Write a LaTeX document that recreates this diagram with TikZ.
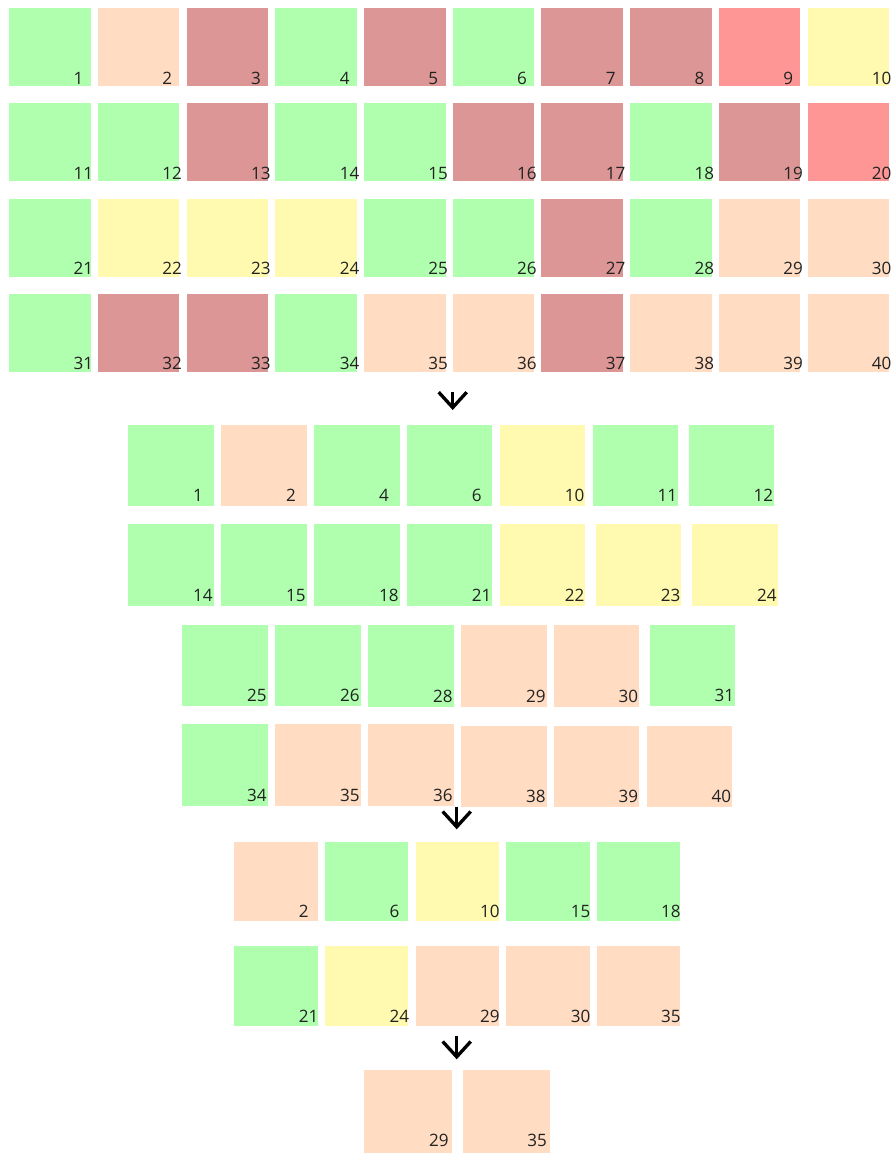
\documentclass[tikz,border=0pt]{standalone}
\usepackage{fontspec}
\setmainfont{Open Sans}
\usetikzlibrary{arrows.meta}

\definecolor{keepgreen}{RGB}{175,255,175}
\definecolor{keeppeach}{RGB}{255,220,194}
\definecolor{keepyellow}{RGB}{255,250,175}
\definecolor{dropred}{RGB}{221,150,150}
\definecolor{droppink}{RGB}{255,150,150}
\definecolor{numgray}{RGB}{34,34,34}

\tikzset{
    cell/.style={rectangle, inner sep=0pt, anchor=north west, fill=#1},
    num/.style={anchor=base west, inner sep=0pt, text=numgray,
                font=\fontsize{12.8}{15}\selectfont},
    topcell/.style={cell=#1, minimum width=61.1pt, minimum height=58.5pt},
    midcell/.style={cell=#1, minimum width=64.1pt, minimum height=61.1pt},
    lowcell/.style={cell=#1, minimum width=62.5pt, minimum height=59.5pt},
    lastcell/.style={cell=#1, minimum width=65.6pt, minimum height=62.5pt},
    flow/.style={-{Straight Barb[length=11.5pt, width=21pt]}, line width=2.5pt},
}

\begin{document}
\begin{tikzpicture}[x=0.75pt, y=-0.75pt]
    \useasboundingbox (0,0) rectangle (891,1153);

    % All 40 items
    \def\numdx{-13.2pt}\def\numdy{1.8pt}
    \foreach \n/\c [count=\i from 0] in {
        1/keepgreen, 2/keeppeach, 3/dropred, 4/keepgreen, 5/dropred,
        6/keepgreen, 7/dropred, 8/dropred, 9/droppink, 10/keepyellow,
        11/keepgreen, 12/keepgreen, 13/dropred, 14/keepgreen, 15/keepgreen,
        16/dropred, 17/dropred, 18/keepgreen, 19/dropred, 20/droppink,
        21/keepgreen, 22/keepyellow, 23/keepyellow, 24/keepyellow, 25/keepgreen,
        26/keepgreen, 27/dropred, 28/keepgreen, 29/keeppeach, 30/keeppeach,
        31/keepgreen, 32/dropred, 33/dropred, 34/keepgreen, 35/keeppeach,
        36/keeppeach, 37/dropred, 38/keeppeach, 39/keeppeach, 40/keeppeach} {
        \pgfmathsetmacro\x{9+88.7*mod(\i,10)}
        \pgfmathsetmacro\y{8+95.2*div(\i,10)}
        \node[topcell=\c] (t\n) at (\x,\y) {};
        \node[num] (tn\n) at ([xshift=\numdx, yshift=\numdy]t\n.south east) {\n};
    }

    \coordinate (a1s) at (452.7,392);
    \coordinate (a1e) at (452.7,410);
    \draw[flow] (a1s) -- (a1e);

    % First filter
    \def\numdx{-15.8pt}\def\numdy{3.75pt}
    \foreach \x/\n/\c in {128/1/keepgreen, 221/2/keeppeach, 314/4/keepgreen,
                          406.7/6/keepgreen, 499.7/10/keepyellow,
                          592.3/11/keepgreen, 688.3/12/keepgreen} {
        \node[midcell=\c] (m\n) at (\x,424.3) {};
        \node[num] (mn\n) at ([xshift=\numdx, yshift=\numdy]m\n.south east) {\n};
    }
    \foreach \x/\n/\c in {128/14/keepgreen, 221/15/keepgreen, 314/18/keepgreen,
                          406.7/21/keepgreen, 499.7/22/keepyellow,
                          595.7/23/keepyellow, 692/24/keepyellow} {
        \node[midcell=\c] (m\n) at (\x,524) {};
        \node[num] (mn\n) at ([xshift=\numdx, yshift=\numdy]m\n.south east) {\n};
    }
    \foreach \x/\y/\n/\c in {182/624.3/25/keepgreen, 275/624.3/26/keepgreen,
                             368/625/28/keepgreen, 461/625/29/keeppeach,
                             553.3/625/30/keeppeach, 649.3/624.3/31/keepgreen} {
        \node[midcell=\c] (m\n) at (\x,\y) {};
        \node[num] (mn\n) at ([xshift=\numdx, yshift=\numdy]m\n.south east) {\n};
    }
    \foreach \x/\y/\n/\c in {182/724/34/keepgreen, 275/724/35/keeppeach,
                             368/724/36/keeppeach, 461/725.7/38/keeppeach,
                             553.3/725.7/39/keeppeach, 646.3/725.7/40/keeppeach} {
        \node[midcell=\c] (m\n) at (\x,\y) {};
        \node[num] (mn\n) at ([xshift=\numdx, yshift=\numdy]m\n.south east) {\n};
    }

    \coordinate (a2s) at (456.7,806.5);
    \coordinate (a2e) at (456.7,829.3);
    \draw[flow] (a2s) -- (a2e);

    % Second filter
    \def\numdx{-14.5pt}\def\numdy{2.55pt}
    \foreach \x/\n/\c in {234/2/keeppeach, 324.7/6/keepgreen, 415.3/10/keepyellow,
                          506/15/keepgreen, 596.3/18/keepgreen} {
        \node[lowcell=\c] (s\n) at (\x,841.3) {};
        \node[num] (sn\n) at ([xshift=\numdx, yshift=\numdy]s\n.south east) {\n};
    }
    \foreach \x/\n/\c in {234/21/keepgreen, 324.7/24/keepyellow, 415.3/29/keeppeach,
                          506/30/keeppeach, 596.3/35/keeppeach} {
        \node[lowcell=\c] (s\n) at (\x,946) {};
        \node[num] (sn\n) at ([xshift=\numdx, yshift=\numdy]s\n.south east) {\n};
    }

    \coordinate (a3s) at (456.7,1036);
    \coordinate (a3e) at (456.7,1059.3);
    \draw[flow] (a3s) -- (a3e);

    % Result
    \def\numdx{-17.4pt}\def\numdy{5.25pt}
    \foreach \x/\n in {364/29, 462.3/35} {
        \node[lastcell=keeppeach] (f\n) at (\x,1070) {};
        \node[num] (fn\n) at ([xshift=\numdx, yshift=\numdy]f\n.south east) {\n};
    }
\end{tikzpicture}
\end{document}
